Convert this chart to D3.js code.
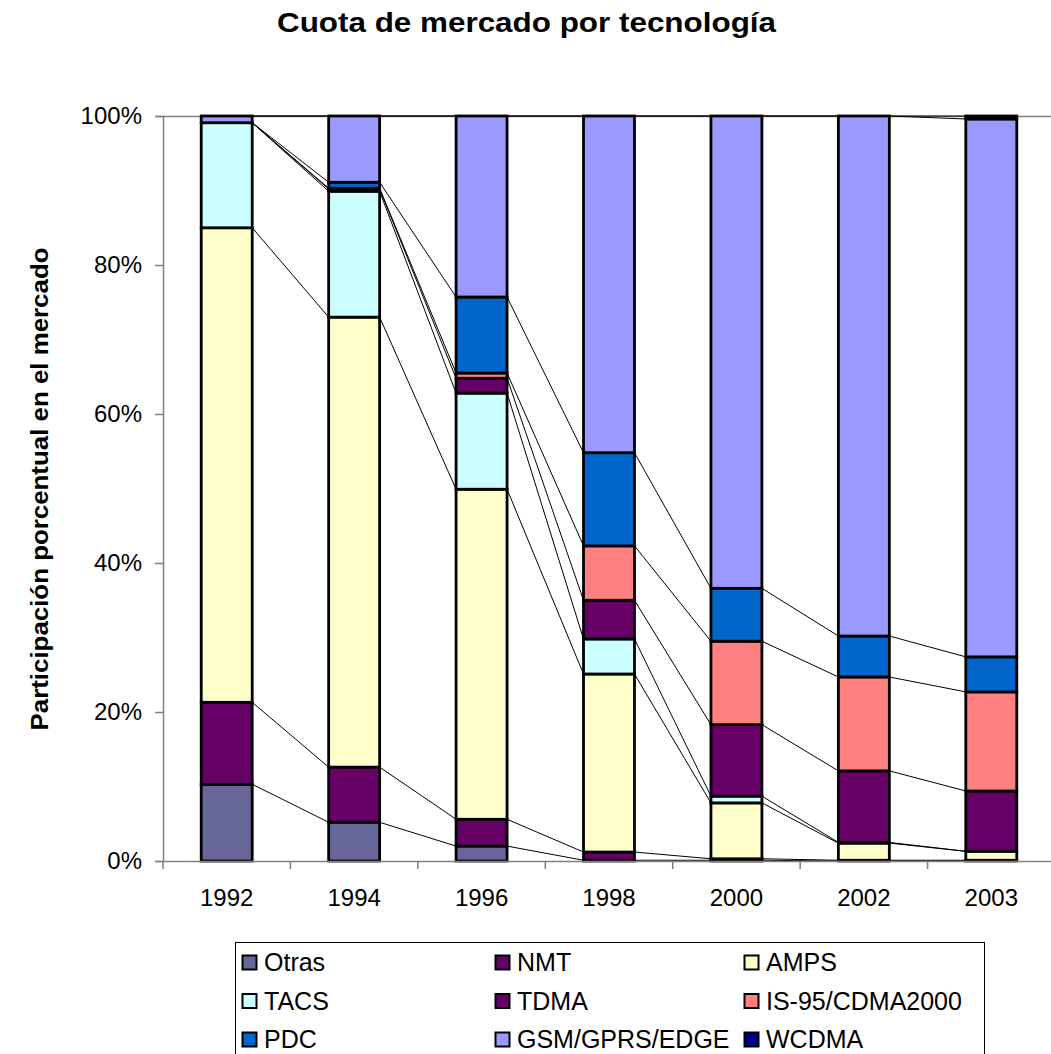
<!DOCTYPE html>
<html>
<head>
<meta charset="utf-8">
<script src="https://d3js.org/d3.v7.min.js"></script>
<style>
  body { margin: 0; background: #fff; }
  svg { display: block; font-family: "Liberation Sans", Arial, sans-serif; }
</style>
</head>
<body>
<div id="chart"></div>
<script>
// Data (percent share)
var years = ["1992", "1994", "1996", "1998", "2000", "2002", "2003"];
var series = ["Otras", "NMT", "AMPS", "TACS", "TDMA", "IS-95/CDMA2000", "PDC", "GSM/GPRS/EDGE", "WCDMA"];
var otras = [10.3, 5.2, 2.0, 0.1, 0.1, 0.0, 0.0];
var nmt   = [11.0, 7.4, 3.6, 1.1, 0.2, 0.1, 0.1];
var amps  = [63.7, 60.4, 44.3, 23.9, 7.5, 2.3, 1.2];
var tacs  = [14.1, 16.9, 12.9, 4.7, 0.9, 0.1, 0.0];
var tdma  = [0.0, 0.3, 2.0, 5.2, 9.6, 9.6, 8.1];
var is95  = [0.0, 0.1, 0.7, 7.3, 11.2, 12.6, 13.3];
var pdc   = [0.0, 0.8, 10.2, 12.5, 7.1, 5.5, 4.7];
var gsm   = [0.9, 8.9, 24.3, 45.2, 63.4, 69.8, 72.2];
var wcdma = [0.0, 0.0, 0.0, 0.0, 0.0, 0.0, 0.4];
var yTicks = [0, 0.2, 0.4, 0.6, 0.8, 1];

var colors = ["#666699", "#660066", "#FFFFCC", "#CCFFFF", "#660066", "#FF8080", "#0066CC", "#9999FF", "#000080"];
var values = [otras, nmt, amps, tacs, tdma, is95, pdc, gsm, wcdma];

var svg_width = 1051, svg_height = 1054;
var margin = { top: 116, left: 163 };
var plotW = 892, plotH = 745;

var svg = d3.select("#chart").append("svg")
  .attr("width", svg_width)
  .attr("height", svg_height);

// title
svg.append("text")
  .attr("x", 526.5).attr("y", 32)
  .attr("text-anchor", "middle")
  .attr("textLength", 499).attr("lengthAdjust", "spacingAndGlyphs")
  .style("font-size", "28px").style("font-weight", "bold")
  .text("Cuota de mercado por tecnología");

// y axis title
svg.append("text")
  .attr("transform", "translate(48," + 489 + ") rotate(-90)")
  .attr("text-anchor", "middle")
  .attr("textLength", 483).attr("lengthAdjust", "spacingAndGlyphs")
  .style("font-size", "24px").style("font-weight", "bold")
  .text("Participación porcentual en el mercado");

var g = svg.append("g").attr("transform", `translate(${margin.left},${margin.top})`);

// table rows per year, then stack to 100%
var table = years.map(function(y, i) {
  var row = { year: y };
  series.forEach(function(s, k) { row[s] = values[k][i]; });
  return row;
});
var stacked = d3.stack().keys(series).offset(d3.stackOffsetExpand)(table);

var x = d3.scaleBand().domain(years).range([0, plotW]).paddingInner(0.6).paddingOuter(0.3);
var xBand = d3.scaleBand().domain(years).range([0, plotW]);
var y = d3.scaleLinear().domain([0, 1]).range([plotH, 0]);

// plot border top line
g.append("line").attr("x1", 0).attr("x2", plotW).attr("y1", 0.5).attr("y2", 0.5)
  .attr("stroke", "#808080").attr("stroke-width", 1.5);

// series lines (connecting segment tops between adjacent bars)
stacked.forEach(function(layer) {
  for (var i = 0; i < years.length - 1; i++) {
    g.append("line")
      .attr("x1", x(years[i]) + x.bandwidth())
      .attr("y1", y(layer[i][1]))
      .attr("x2", x(years[i + 1]))
      .attr("y2", y(layer[i + 1][1]))
      .attr("stroke", "#000").attr("stroke-width", 1);
  }
});

// bars
stacked.forEach(function(layer, k) {
  g.selectAll(null).data(layer).enter().append("rect")
    .attr("x", (d, i) => x(years[i]))
    .attr("width", x.bandwidth())
    .attr("y", d => y(d[1]))
    .attr("height", d => Math.max(0, y(d[0]) - y(d[1])))
    .attr("fill", colors[k])
    .attr("stroke", "#000")
    .attr("stroke-width", d => (d[1] - d[0]) > 0 ? 2.8 : 0);
});

// axes
var yAxis = g.append("g").call(d3.axisLeft(y).tickValues(yTicks).tickFormat(d3.format(".0%")).tickSize(8).tickPadding(13));
var xAxis = g.append("g").attr("transform", `translate(0,${plotH})`)
  .call(d3.axisBottom(xBand).tickSize(0).tickPadding(28));
g.append("g").selectAll("line").data(years.slice(1).concat(["end"])).enter().append("line")
  .attr("x1", (d, i) => (i + 1) * xBand.bandwidth())
  .attr("x2", (d, i) => (i + 1) * xBand.bandwidth())
  .attr("y1", plotH).attr("y2", plotH + 8)
  .attr("stroke", "#808080").attr("stroke-width", 1.5);
g.append("line").attr("x1", 0).attr("x2", 0).attr("y1", plotH).attr("y2", plotH + 8)
  .attr("stroke", "#808080").attr("stroke-width", 1.5);

[yAxis, xAxis].forEach(function(a) {
  a.select(".domain").attr("stroke", "#808080").attr("stroke-width", 1.5);
  a.selectAll(".tick line").attr("stroke", "#808080").attr("stroke-width", 1.5);
  a.selectAll("text").style("font-size", "24px").style("font-family", "Liberation Sans, Arial, sans-serif").attr("fill", "#000");
});
xAxis.select(".domain").attr("d", `M0,0.5H${plotW}`);

// legend
var legend = svg.append("g").attr("transform", "translate(235,942)");
legend.append("rect").attr("x", 0.5).attr("y", 0.5).attr("width", 749).attr("height", 140)
  .attr("fill", "#fff").attr("stroke", "#000").attr("stroke-width", 1);
var colX = [7, 260, 509];
series.forEach(function(s, k) {
  var col = k % 3, row = Math.floor(k / 3);
  var item = legend.append("g").attr("transform", `translate(${colX[col]},${13 + row * 38.5})`);
  item.append("rect").attr("x", 0.5).attr("y", 0.5).attr("width", 14).attr("height", 14)
    .attr("fill", colors[k]).attr("stroke", "#000").attr("stroke-width", 2);
  item.append("text").attr("x", 22).attr("y", 16)
    .style("font-size", "25px").text(s);
});
</script>
</body>
</html>
